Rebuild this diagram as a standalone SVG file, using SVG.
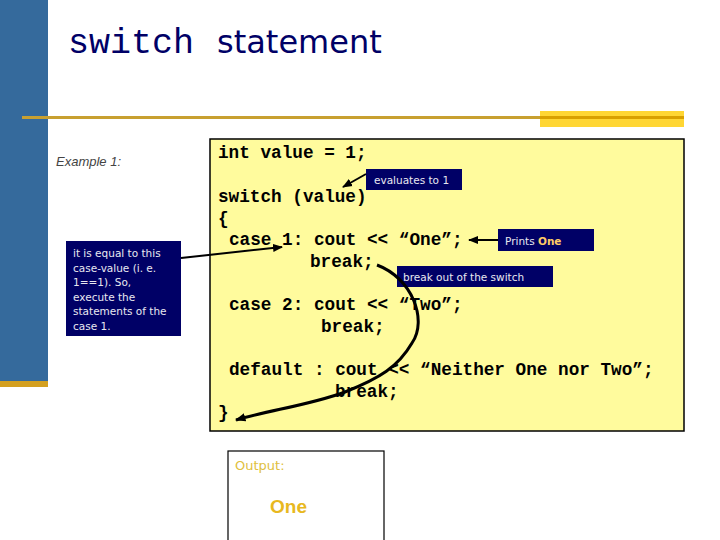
<svg xmlns="http://www.w3.org/2000/svg" width="720" height="540" viewBox="0 0 720 540">
<defs>
<style>
.code{font-family:"Liberation Mono","Courier New",monospace;font-weight:bold;font-size:17.7px;fill:#000;}
.note{font-family:"DejaVu Sans","Liberation Sans",sans-serif;font-size:10.5px;fill:#E8E8F0;}
.callout{fill:#000066;}
.arrow{stroke:#000;stroke-width:2;fill:none;marker-end:url(#ah);}
</style>
<marker id="ah" viewBox="0 0 10 10" refX="9" refY="5" markerWidth="5" markerHeight="5" orient="auto" markerUnits="strokeWidth">
<path d="M0,1 L10,5 L0,9 z" fill="#000"/>
</marker>
<marker id="ah2" viewBox="0 0 10 10" refX="9" refY="5" markerWidth="3.5" markerHeight="3.5" orient="auto" markerUnits="strokeWidth">
<path d="M0,1 L10,5 L0,9 z" fill="#000"/>
</marker>
</defs>
<rect width="720" height="540" fill="#fff"/>
<g id="decor">
<rect x="0" y="0" width="48" height="382" fill="#356A9C"/>
<rect x="0" y="381" width="48" height="6" fill="#D4A020"/>
<rect x="540" y="111" width="144" height="16" fill="#FFD633"/>
<line x1="22" y1="117.5" x2="684" y2="117.5" stroke="#C8A030" stroke-width="3"/>
<line x1="540" y1="117.5" x2="684" y2="117.5" stroke="#D9A000" stroke-width="3"/>
</g>
<g id="title">
<text x="68" y="53" font-family="Liberation Mono,'Courier New',monospace" font-size="35" fill="#000066">switch</text>
<text x="217" y="53" font-family="'DejaVu Sans',Verdana,sans-serif" font-size="32" fill="#000066">statement</text>
</g>
<text x="56" y="166" font-family="'Liberation Sans',Arial,sans-serif" font-style="italic" font-size="13" fill="#444">Example 1:</text>
<g id="code-box">
<rect x="210" y="139" width="474" height="292" fill="#FFFB9D" stroke="#000" stroke-width="1.5"/>
<text class="code" x="218" y="158">int value = 1;</text>
<text class="code" x="218" y="202">switch (value)</text>
<text class="code" x="218" y="224">{</text>
<text class="code" x="229" y="245">case 1: cout &lt;&lt; “One”;</text>
<text class="code" x="310" y="267">break;</text>
<text class="code" x="229" y="310">case 2: cout &lt;&lt; “Two”;</text>
<text class="code" x="321" y="332">break;</text>
<text class="code" x="229" y="375">default : cout &lt;&lt; “Neither One nor Two”;</text>
<text class="code" x="335" y="397">break;</text>
<text class="code" x="218" y="418">}</text>
</g>
<g id="note-case">
<rect class="callout" x="66" y="241" width="115" height="95"/>
<text class="note" x="73" y="257">it is equal to this</text>
<text class="note" x="73" y="271.5">case-value (i. e.</text>
<text class="note" x="73" y="286">1==1).  So,</text>
<text class="note" x="73" y="300.5">execute the</text>
<text class="note" x="73" y="315">statements of the</text>
<text class="note" x="73" y="329.5">case 1.</text>
</g>
<g id="note-evaluates">
<rect class="callout" x="366" y="169" width="96" height="21"/>
<text class="note" x="374" y="184">evaluates to 1</text>
</g>
<g id="note-prints">
<rect class="callout" x="498" y="229" width="96" height="22"/>
<text class="note" x="505" y="244.5">Prints <tspan font-weight="bold" fill="#FFCC66">One</tspan></text>
</g>
<g id="note-break">
<rect class="callout" x="397" y="266" width="156" height="21"/>
<text class="note" x="403" y="280.5">break out of the switch</text>
</g>
<g id="output-box">
<rect x="228" y="451" width="156" height="95" fill="#fff" stroke="#000" stroke-width="1.2"/>
<text x="235" y="470" font-family="'DejaVu Sans',Verdana,sans-serif" font-size="13" fill="#E0C040">Output:</text>
<text x="270" y="513" font-family="'Liberation Sans',Arial,sans-serif" font-weight="bold" font-size="19" fill="#E8B820">One</text>
</g>
<g id="connectors">
<path class="arrow" d="M366,174 L343,187"/>
<path class="arrow" d="M498,240 L469,240"/>
<path class="arrow" d="M181,258 L282,247"/>
<path d="M377,265 C412,278 428,320 412,343 C398,367 380,378 345,392 C310,405 270,410 236,420" stroke="#000" stroke-width="3" fill="none" marker-end="url(#ah2)"/>
</g>
</svg>
